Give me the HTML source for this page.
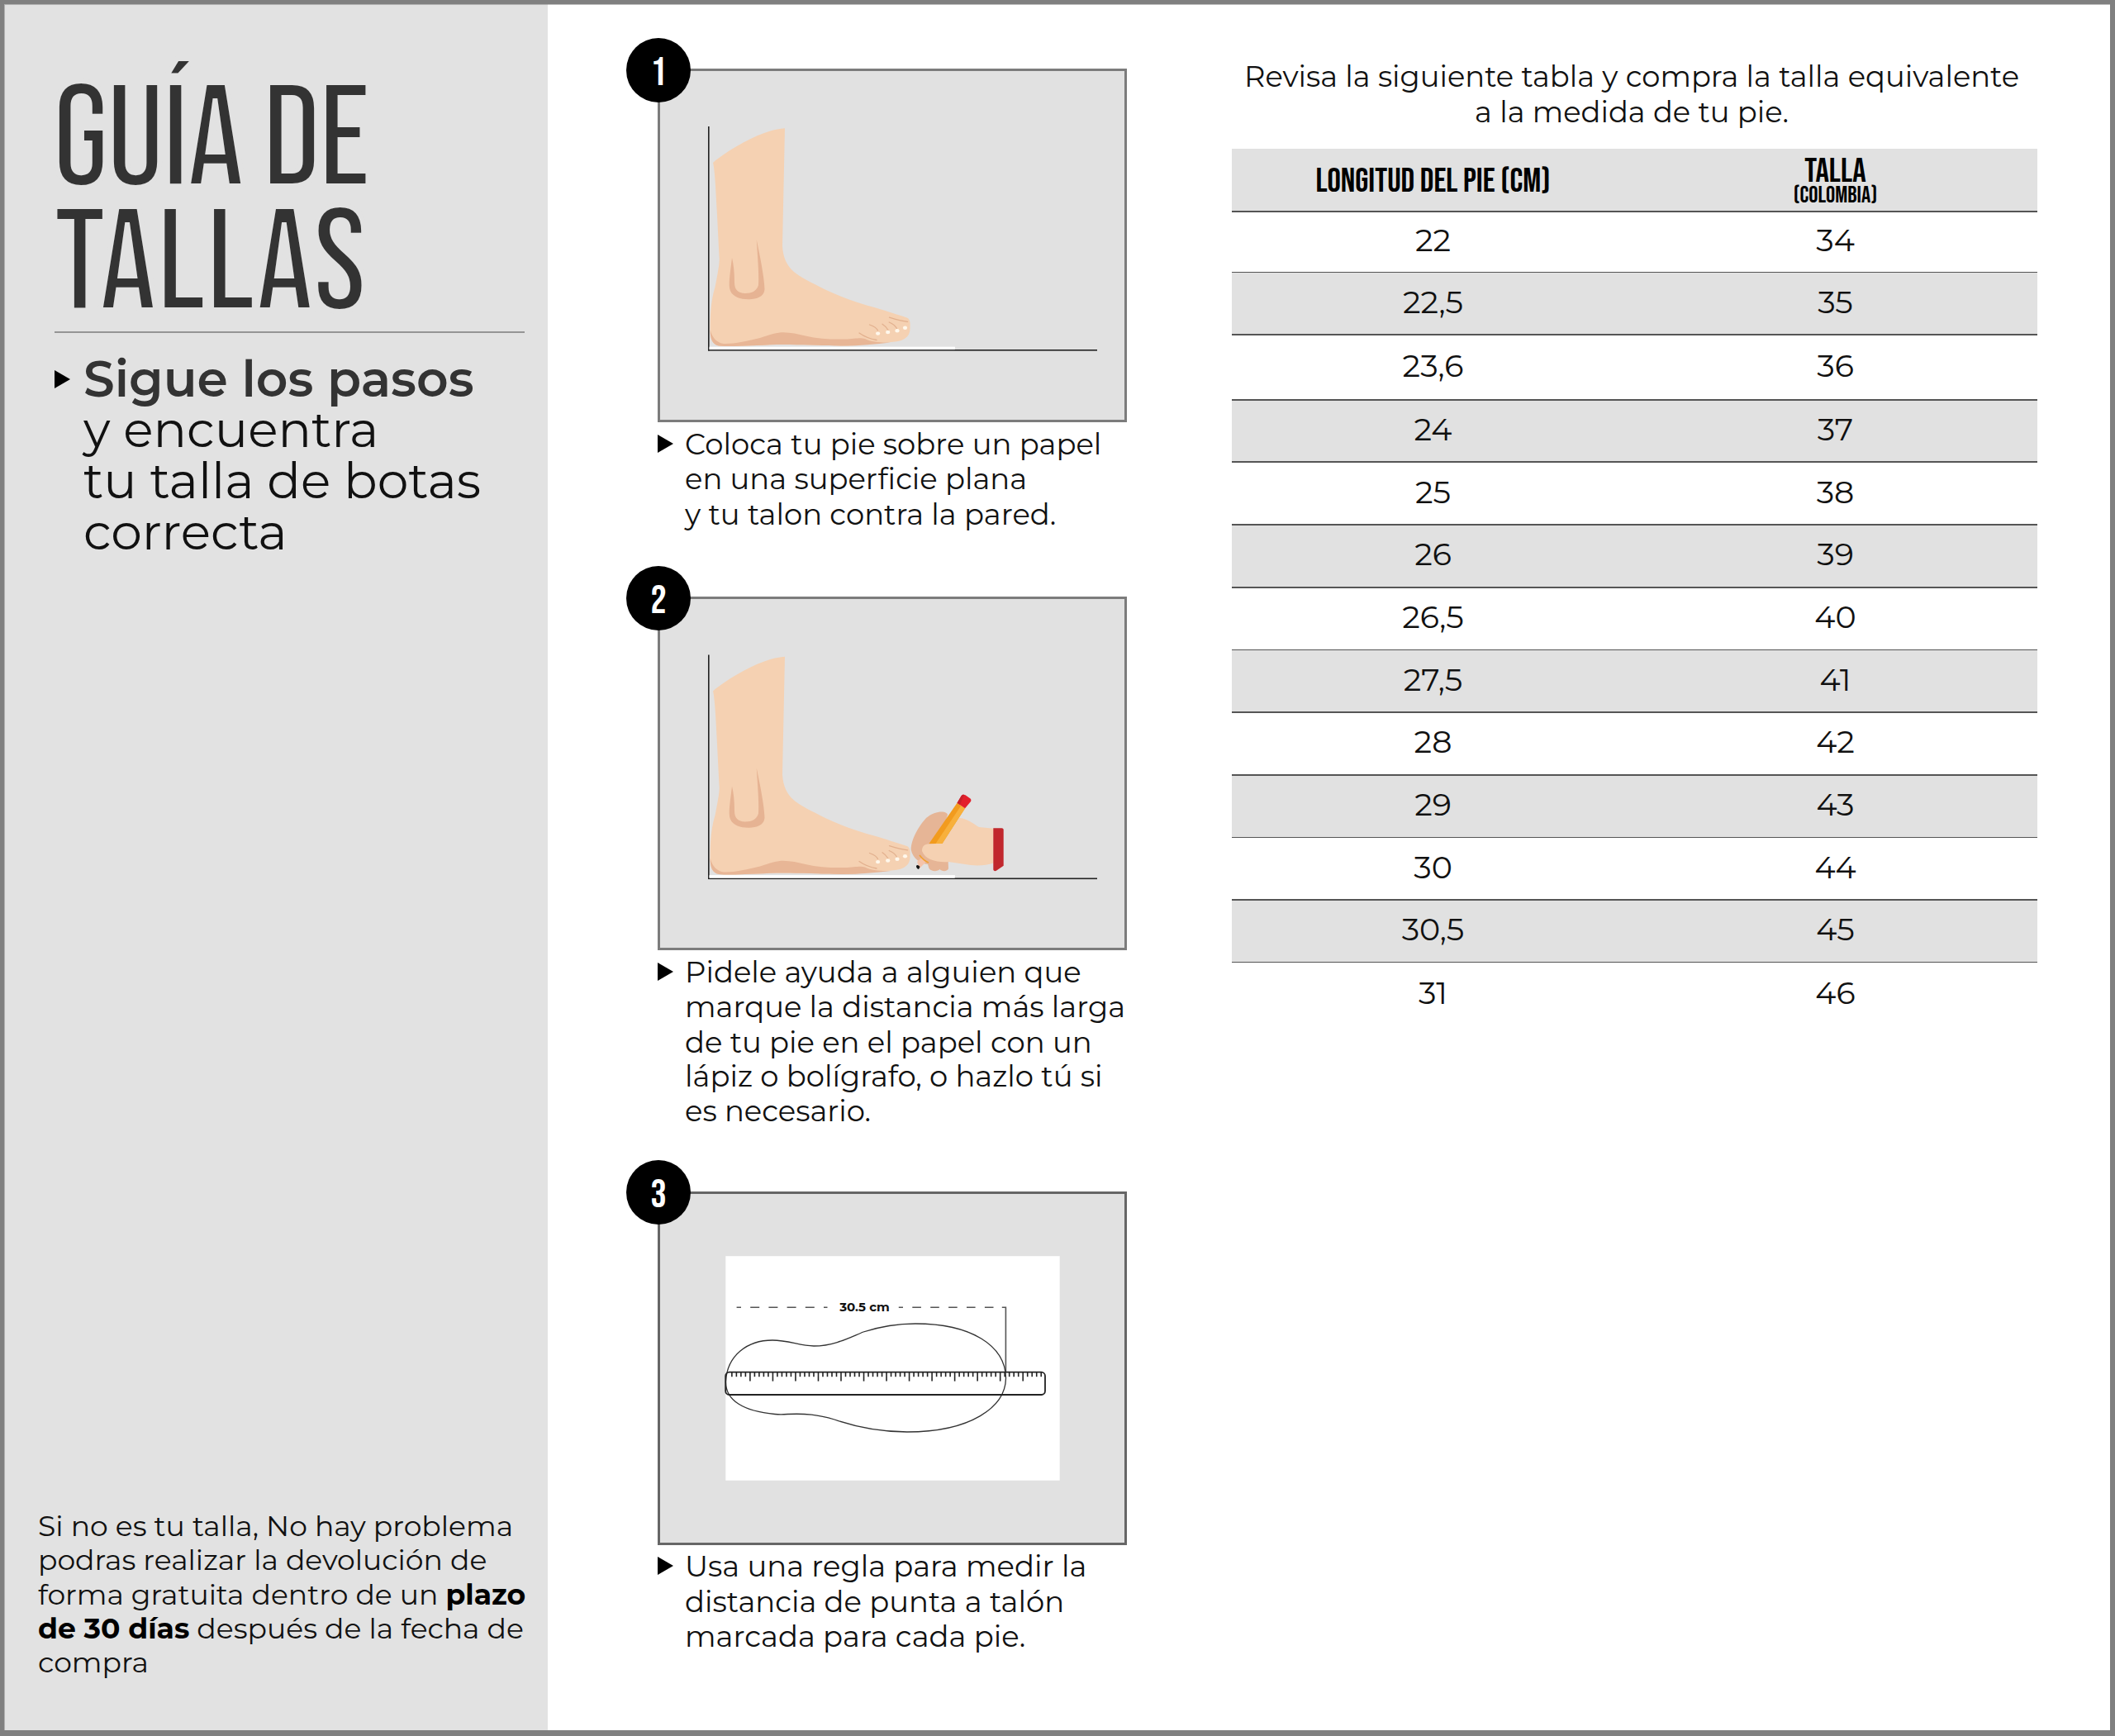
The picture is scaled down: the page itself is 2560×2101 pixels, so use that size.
<!DOCTYPE html>
<html lang="es"><head><meta charset="utf-8"><title>Guía de tallas</title>
<style>
*{margin:0;padding:0;box-sizing:border-box}
html,body{width:2560px;height:2101px;overflow:hidden;background:#fff}
body{position:relative;color:#111}
.abs{position:absolute}
#frame{position:absolute;left:0;top:0;width:2560px;height:2101px;border-style:solid;border-color:#808080;border-width:5px 6px 7px 5px;z-index:50;pointer-events:none}
#frame2{position:absolute;left:5px;top:5px;width:2549px;height:2089px;border-style:solid;border-color:rgba(128,128,128,.5);border-width:1px 0 0 1px;z-index:50;pointer-events:none}
#left{position:absolute;left:5px;top:5px;width:658px;height:2090px;background:#e2e2e2}
#sep{position:absolute;left:66px;top:401px;width:569px;height:2px;background:#959595}
.tri{position:absolute;width:0;height:0;border-style:solid;border-color:transparent transparent transparent #000}
.line{position:absolute;white-space:nowrap;line-height:1}
.title{position:absolute;line-height:1;color:#333;white-space:nowrap}
.sub{left:101px}
.sub b{color:#333}
.foot{left:46px;color:#111}
.foot b{color:#000}
.box{position:absolute;left:796px;width:568px;height:428px;border:3px solid #7c7c7c;background:#e1e1e1}
.num{position:absolute;left:758px;width:78px;height:78px;border-radius:50%;background:#000;color:#fff;text-align:center;z-index:5;overflow:hidden}
.num span{display:block}
.st{left:829px;color:#111}
.para{color:#111;text-align:center;left:1475px;width:1000px}
.g{background:#e1e1e1}
.c1,.c2{position:absolute;width:487px;text-align:center;line-height:1;color:#111}
.c1{left:1491px}.c2{left:1978px}
.hl2{left:1491px;width:975px;height:1.8px;background:#555}
.hd{color:#000;position:absolute;text-align:center;line-height:1;white-space:nowrap}
.hd span{display:inline-block}

body{font-family:"Liberation Sans",Arial,sans-serif}
.title{font-family:"Liberation Sans",Arial,sans-serif;font-weight:700;font-size:175px;transform-origin:0 0;-webkit-text-stroke:2px #e2e2e2}
.t1{left:68px;top:74.8px;transform:scaleX(0.522);letter-spacing:0px}
.t2{left:66.5px;top:224.7px;transform:scaleX(0.55);letter-spacing:0px}
.sub{font-size:58.7px;transform-origin:0 0;transform:translateY(2px) scaleX(1.15)}
.sub1{transform:translateY(2px) scaleX(1.052)}
.sub b{font-weight:700}
.foot{font-size:33.8px;transform-origin:0 0;transform:translateY(1px) scaleX(1.145)}
.foot b{font-weight:700}
.st{font-size:34.6px;transform-origin:0 0;transform:translateY(1px) scaleX(1.143)}
.para{font-size:34.5px;transform-origin:50% 0;transform:translateY(1px) scaleX(1.145)}
.c1,.c2{font-size:37.2px;letter-spacing:1.5px;transform:translateY(1px)}
.num{font-family:"Liberation Sans",Arial,sans-serif;font-weight:700;font-size:52.5px;line-height:77.5px}
.num span{transform:scaleX(0.7)}
.hd{font-family:"Liberation Sans",Arial,sans-serif;font-weight:700}
.h1{left:0;width:487px;top:18.2px;font-size:40px;letter-spacing:0px}
.h2{left:487px;width:487px;top:6.9px;font-size:40px;letter-spacing:0px}
.h3{left:487px;width:487px;top:42px;font-size:27.4px;letter-spacing:0px}
.h1 span{transform:scaleX(0.59)}
.h2 span{transform:scaleX(0.598)}
.h3 span{transform:scaleX(0.617)}
.dim{font-family:"Liberation Sans",Arial,sans-serif;font-size:14.7px}

.gf body{font-family:"Montserrat","Liberation Sans",sans-serif}
.gf .title{font-family:"Bebas Neue","Liberation Sans",sans-serif;font-weight:400;font-size:178px;-webkit-text-stroke:6px #e2e2e2;transform:none}
.gf .t1{left:63px;top:83px;letter-spacing:-4.3px}
.gf .t2{left:64.3px;top:233px;letter-spacing:-1.6px}
.gf .sub{font-size:60px;letter-spacing:0;transform:none}
.gf .sub b{font-weight:600}
.gf .foot{font-size:34.6px;letter-spacing:0;transform:none}
.gf .st{font-size:35.4px;letter-spacing:0;transform:none}
.gf .para{font-size:35.3px;letter-spacing:0;transform:none}
.gf .c1,.gf .c2{font-size:38px;letter-spacing:0;transform:none}
.gf .num{font-family:"Bebas Neue",sans-serif;font-weight:400;font-size:48px;line-height:85px}
.gf .num span{transform:none}
.gf .hd{font-family:"Bebas Neue",sans-serif;font-weight:400}
.gf .hd span,.gf .h1 span,.gf .h2 span,.gf .h3 span{transform:none}
.gf .h1{top:19.2px;font-size:41px;letter-spacing:0}
.gf .h2{top:7.4px;font-size:41px;letter-spacing:0}
.gf .h3{top:43px;font-size:28px;letter-spacing:0}
.gf .dim{font-family:"Montserrat",sans-serif;font-size:15px}
</style></head><body>
<div id="left"></div>
<div id="frame"></div>
<div id="frame2"></div>
<div class="title t1">GUÍA DE</div>
<div class="title t2">TALLAS</div>
<div id="sep"></div>

<div class="tri" style="left:65.8px;top:448.3px;border-width:11.35px 0 11.35px 19.4px"></div>
<div class="line sub sub1" style="top:429px"><b>Sigue los pasos</b></div>
<div class="line sub" style="top:489.6px">y encuentra</div>
<div class="line sub" style="top:552px">tu talla de botas</div>
<div class="line sub" style="top:613.5px">correcta</div>

<div class="line foot" style="top:1830.4px">Si no es tu talla, No hay problema</div>
<div class="line foot" style="top:1871.4px">podras realizar la devolución de</div>
<div class="line foot" style="top:1913.4px">forma gratuita dentro de un <b>plazo</b></div>
<div class="line foot" style="top:1954.4px"><b>de 30 días</b> después de la fecha de</div>
<div class="line foot" style="top:1995.4px">compra</div>

<div class="box" style="top:83px"></div>
<div class="box" style="top:722px"></div>
<div class="box" style="top:1442px;border-color:#666"></div>
<div class="num" style="top:46px"><span>1</span></div>
<div class="num" style="top:685px"><span>2</span></div>
<div class="num" style="top:1404px"><span>3</span></div>

<svg class="abs" style="left:0;top:0;z-index:3" width="2560" height="2101" viewBox="0 0 2560 2101">

<g>
 <path fill="#f5d1b2" d="M863,197 C875,186 905,168 925,161 C935,157 945,155.5 950,155.2 L947,298 C948,312 952,321 961,329 C968,335 982,342 1000,351 C1020,360.5 1040,367 1060,372.6 C1075,377 1088,381.5 1097,384.2 C1101,385 1102,390 1101.5,395 C1102,402 1100,408 1092,411.4 C1085,414 1070,415 1055,415 C1045,417 1035,418.5 1020,418.5 C990,418 960,416.5 940,417 C910,418 885,420 870,418.5 C862,417 859.5,410 859.5,399 C859.5,385 860,365 865.6,347 C869,330 871,318 870.7,313 C869,280 867,240 866,225 C865,210 864,200 863,197 Z"/>
 <path fill="#e8b696" d="M859.6,399 C862,409 868,415 876,416 C888,416.5 905,412.5 920,409 C932,405 941,402.3 948,402.3 C957,402.3 966,404.5 975,406.5 C990,410 1008,411 1022,410.5 C1035,410 1042,408 1047,410 C1055,414 1066,415 1078,414.5 C1060,416.5 1040,418.5 1020,418.5 C990,418 960,416.5 940,417 C910,418 885,420 870,418.5 C862,417 859.6,410 859.6,399 Z"/>
 <path fill="#e6b393" d="M886,312 C884,330 881,345 884,352 C888,361 900,363 910,362 C920,361 925,357 925.5,350 C925,335 920,310 915.7,290 C917,310 919,335 918,345 C916,352 910,355 902,355 C893,355 889,350 889,342 C889,330 888,320 886,312 Z"/>
 <g fill="none" stroke="#e2b08e" stroke-width="1.3" stroke-linecap="round">
  <path d="M1052.5,393 C1057,394.5 1061,396.5 1062.5,400"/>
  <path d="M1068,392.3 C1071.5,394.5 1073.5,397 1075,399.5"/>
  <path d="M1076.2,390 C1080,391.5 1083.5,394 1085.5,397.5"/>
  <path d="M1076.5,384.2 C1084,386.5 1091,388.5 1098.5,389.4"/>
  <path d="M1040,403 C1045,406.5 1052,410 1061,411.5"/>
 </g>
 <g fill="#fff8ec">
  <ellipse cx="1062.6" cy="403.6" rx="2.6" ry="2.2"/>
  <ellipse cx="1074.7" cy="402" rx="2.6" ry="2.2"/>
  <ellipse cx="1086" cy="400.3" rx="2.6" ry="2.2"/>
  <ellipse cx="1095.5" cy="396.8" rx="2.6" ry="2.2"/>
 </g>
 <rect x="858" y="419.8" width="298" height="3.6" fill="#fff"/>
 <rect x="857" y="153" width="1.6" height="271.5" fill="#222"/>
 <rect x="857" y="423" width="471" height="1.6" fill="#222"/>
 <rect x="858.6" y="419.8" width="297" height="3.3" fill="#fff"/>
</g>
<g transform="translate(0,639.5)">
 <path fill="#f5d1b2" d="M863,197 C875,186 905,168 925,161 C935,157 945,155.5 950,155.2 L947,298 C948,312 952,321 961,329 C968,335 982,342 1000,351 C1020,360.5 1040,367 1060,372.6 C1075,377 1088,381.5 1097,384.2 C1101,385 1102,390 1101.5,395 C1102,402 1100,408 1092,411.4 C1085,414 1070,415 1055,415 C1045,417 1035,418.5 1020,418.5 C990,418 960,416.5 940,417 C910,418 885,420 870,418.5 C862,417 859.5,410 859.5,399 C859.5,385 860,365 865.6,347 C869,330 871,318 870.7,313 C869,280 867,240 866,225 C865,210 864,200 863,197 Z"/>
 <path fill="#e8b696" d="M859.6,399 C862,409 868,415 876,416 C888,416.5 905,412.5 920,409 C932,405 941,402.3 948,402.3 C957,402.3 966,404.5 975,406.5 C990,410 1008,411 1022,410.5 C1035,410 1042,408 1047,410 C1055,414 1066,415 1078,414.5 C1060,416.5 1040,418.5 1020,418.5 C990,418 960,416.5 940,417 C910,418 885,420 870,418.5 C862,417 859.6,410 859.6,399 Z"/>
 <path fill="#e6b393" d="M886,312 C884,330 881,345 884,352 C888,361 900,363 910,362 C920,361 925,357 925.5,350 C925,335 920,310 915.7,290 C917,310 919,335 918,345 C916,352 910,355 902,355 C893,355 889,350 889,342 C889,330 888,320 886,312 Z"/>
 <g fill="none" stroke="#e2b08e" stroke-width="1.3" stroke-linecap="round">
  <path d="M1052.5,393 C1057,394.5 1061,396.5 1062.5,400"/>
  <path d="M1068,392.3 C1071.5,394.5 1073.5,397 1075,399.5"/>
  <path d="M1076.2,390 C1080,391.5 1083.5,394 1085.5,397.5"/>
  <path d="M1076.5,384.2 C1084,386.5 1091,388.5 1098.5,389.4"/>
  <path d="M1040,403 C1045,406.5 1052,410 1061,411.5"/>
 </g>
 <g fill="#fff8ec">
  <ellipse cx="1062.6" cy="403.6" rx="2.6" ry="2.2"/>
  <ellipse cx="1074.7" cy="402" rx="2.6" ry="2.2"/>
  <ellipse cx="1086" cy="400.3" rx="2.6" ry="2.2"/>
  <ellipse cx="1095.5" cy="396.8" rx="2.6" ry="2.2"/>
 </g>
 <rect x="858" y="419.8" width="298" height="3.6" fill="#fff"/>
 <rect x="857" y="153" width="1.6" height="271.5" fill="#222"/>
 <rect x="857" y="423" width="471" height="1.6" fill="#222"/>
 <rect x="858.6" y="419.8" width="297" height="3.3" fill="#fff"/>
</g>
<!-- hand with pencil (box 2) -->
<g>
 <path fill="#e6b596" d="M1102.6,1028 C1103,1015 1112,1000 1121,990 C1128,984 1136,982 1141,982.5 C1145,983 1147,985 1147,986 L1135,1025 L1147.6,1042 L1148,1051 C1147,1055 1140,1055 1137.5,1052 C1135,1055 1127,1055 1124.5,1051 L1123,1046 C1115,1045 1105,1040 1102.6,1028 Z"/>
 <path fill="#f5d1b2" d="M1116,1030 C1116,1023 1120,1021 1126,1021.5 L1141,1020.5 L1161,990 C1170,990 1178,997 1185,1001 L1202.5,1002.7 L1202.5,1044.5 C1195,1047 1185,1048 1175,1047 L1148,1043 C1135,1044 1120,1041 1116,1030 Z"/>
 <polygon fill="#f29b1e" points="1158.5,971.8 1168.1,978.2 1140.5,1021 1124.5,1021"/>
 <polygon fill="#f8b03c" points="1163.3,975 1168.1,978.2 1140.5,1021 1132.5,1021"/>
 <path fill="#e3202b" d="M1158.5,971.8 L1163.7,963 C1165,961.5 1167,961.5 1168.5,962.3 L1174.5,966.5 C1175.6,967.5 1175.6,969 1175,970 L1168.1,978.2 Z"/>
 <path fill="#c8202a" d="M1158.5,971.8 L1163.7,963 C1165,961.5 1166,961.5 1167,962 L1162,974 Z"/>
 <polygon fill="#f5c3aa" points="1110,1043 1115.5,1038 1121,1043 1113,1051"/>
 <path fill="#111" d="M1109,1048 C1110,1046 1112,1047 1113.5,1049 L1112,1052 C1110,1051.5 1109,1050 1109,1048 Z"/>
 <path fill="none" stroke="#f0a030" stroke-width="1.6" d="M1113,1035 C1117,1040 1121,1043 1124,1044"/>
 <path fill="#c1272d" d="M1202.3,1002.3 L1212.5,1002.3 C1214,1002.3 1214.7,1003.3 1214.7,1004.5 L1214.7,1047.7 L1205.5,1054.1 C1203.5,1054.5 1202.3,1053.5 1202.3,1052 Z"/>
</g>
<!-- box 3 drawing -->
<rect x="878.3" y="1520.2" width="404.4" height="271.5" fill="#fff"/>
<path fill="none" stroke="#555" stroke-width="1.6" stroke-dasharray="11 11.2" stroke-dashoffset="5.6" d="M891.6,1582.2 H1001.5"/>
<path fill="none" stroke="#555" stroke-width="1.6" stroke-dasharray="10.6 11.3" stroke-dashoffset="5.4" d="M1087.8,1582.2 H1210"/>
<path fill="none" stroke="#555" stroke-width="1.6" d="M1212.8,1582.2 H1217.4 V1660"/>
<text x="1046.5" y="1586.9" class="dim" font-weight="700" font-size="15" text-anchor="middle" fill="#111">30.5 cm</text>
<path fill="none" stroke="#333" stroke-width="1.3" d="M878.5,1672 C880,1640 905,1622 935,1622 C955,1622 968,1629 985,1629 C1010,1629 1030,1618 1045,1612 C1070,1604 1090,1602 1108,1602 C1175,1602 1217,1628 1217.5,1668 C1217,1703 1175,1733 1098,1733 C1060,1733 1030,1725 1010,1718 C990,1712 975,1710.5 953,1711.5 C947,1712 943,1712 938,1711.5 C900,1708 878,1695 878.5,1672 Z"/>
<rect x="878.2" y="1660.7" width="386.8" height="27.3" rx="4.5" fill="none" stroke="#222" stroke-width="1.8"/>
<g stroke="#222" stroke-width="1.6"><line x1="885.88" y1="1661" x2="885.88" y2="1666.2"/><line x1="891.38" y1="1661" x2="891.38" y2="1666.2"/><line x1="896.89" y1="1661" x2="896.89" y2="1666.2"/><line x1="902.39" y1="1661" x2="902.39" y2="1666.2"/><line x1="907.90" y1="1661" x2="907.90" y2="1671.6"/><line x1="913.40" y1="1661" x2="913.40" y2="1666.2"/><line x1="918.91" y1="1661" x2="918.91" y2="1666.2"/><line x1="924.41" y1="1661" x2="924.41" y2="1666.2"/><line x1="929.92" y1="1661" x2="929.92" y2="1666.2"/><line x1="935.42" y1="1661" x2="935.42" y2="1671.6"/><line x1="940.93" y1="1661" x2="940.93" y2="1666.2"/><line x1="946.43" y1="1661" x2="946.43" y2="1666.2"/><line x1="951.94" y1="1661" x2="951.94" y2="1666.2"/><line x1="957.44" y1="1661" x2="957.44" y2="1666.2"/><line x1="962.95" y1="1661" x2="962.95" y2="1671.6"/><line x1="968.45" y1="1661" x2="968.45" y2="1666.2"/><line x1="973.96" y1="1661" x2="973.96" y2="1666.2"/><line x1="979.46" y1="1661" x2="979.46" y2="1666.2"/><line x1="984.97" y1="1661" x2="984.97" y2="1666.2"/><line x1="990.48" y1="1661" x2="990.48" y2="1671.6"/><line x1="995.98" y1="1661" x2="995.98" y2="1666.2"/><line x1="1001.49" y1="1661" x2="1001.49" y2="1666.2"/><line x1="1006.99" y1="1661" x2="1006.99" y2="1666.2"/><line x1="1012.50" y1="1661" x2="1012.50" y2="1666.2"/><line x1="1018.00" y1="1661" x2="1018.00" y2="1671.6"/><line x1="1023.50" y1="1661" x2="1023.50" y2="1666.2"/><line x1="1029.01" y1="1661" x2="1029.01" y2="1666.2"/><line x1="1034.51" y1="1661" x2="1034.51" y2="1666.2"/><line x1="1040.02" y1="1661" x2="1040.02" y2="1666.2"/><line x1="1045.53" y1="1661" x2="1045.53" y2="1671.6"/><line x1="1051.03" y1="1661" x2="1051.03" y2="1666.2"/><line x1="1056.53" y1="1661" x2="1056.53" y2="1666.2"/><line x1="1062.04" y1="1661" x2="1062.04" y2="1666.2"/><line x1="1067.55" y1="1661" x2="1067.55" y2="1666.2"/><line x1="1073.05" y1="1661" x2="1073.05" y2="1671.6"/><line x1="1078.56" y1="1661" x2="1078.56" y2="1666.2"/><line x1="1084.06" y1="1661" x2="1084.06" y2="1666.2"/><line x1="1089.57" y1="1661" x2="1089.57" y2="1666.2"/><line x1="1095.07" y1="1661" x2="1095.07" y2="1666.2"/><line x1="1100.58" y1="1661" x2="1100.58" y2="1671.6"/><line x1="1106.08" y1="1661" x2="1106.08" y2="1666.2"/><line x1="1111.59" y1="1661" x2="1111.59" y2="1666.2"/><line x1="1117.09" y1="1661" x2="1117.09" y2="1666.2"/><line x1="1122.60" y1="1661" x2="1122.60" y2="1666.2"/><line x1="1128.10" y1="1661" x2="1128.10" y2="1671.6"/><line x1="1133.61" y1="1661" x2="1133.61" y2="1666.2"/><line x1="1139.11" y1="1661" x2="1139.11" y2="1666.2"/><line x1="1144.62" y1="1661" x2="1144.62" y2="1666.2"/><line x1="1150.12" y1="1661" x2="1150.12" y2="1666.2"/><line x1="1155.62" y1="1661" x2="1155.62" y2="1671.6"/><line x1="1161.13" y1="1661" x2="1161.13" y2="1666.2"/><line x1="1166.63" y1="1661" x2="1166.63" y2="1666.2"/><line x1="1172.14" y1="1661" x2="1172.14" y2="1666.2"/><line x1="1177.64" y1="1661" x2="1177.64" y2="1666.2"/><line x1="1183.15" y1="1661" x2="1183.15" y2="1671.6"/><line x1="1188.65" y1="1661" x2="1188.65" y2="1666.2"/><line x1="1194.16" y1="1661" x2="1194.16" y2="1666.2"/><line x1="1199.66" y1="1661" x2="1199.66" y2="1666.2"/><line x1="1205.17" y1="1661" x2="1205.17" y2="1666.2"/><line x1="1210.67" y1="1661" x2="1210.67" y2="1671.6"/><line x1="1216.18" y1="1661" x2="1216.18" y2="1666.2"/><line x1="1221.68" y1="1661" x2="1221.68" y2="1666.2"/><line x1="1227.19" y1="1661" x2="1227.19" y2="1666.2"/><line x1="1232.69" y1="1661" x2="1232.69" y2="1666.2"/><line x1="1238.20" y1="1661" x2="1238.20" y2="1671.6"/><line x1="1243.70" y1="1661" x2="1243.70" y2="1666.2"/><line x1="1249.21" y1="1661" x2="1249.21" y2="1666.2"/><line x1="1254.71" y1="1661" x2="1254.71" y2="1666.2"/><line x1="1260.22" y1="1661" x2="1260.22" y2="1666.2"/></g>
</svg>

<div class="tri" style="left:795.9px;top:525.5px;border-width:11.2px 0 11.2px 19.7px"></div>
<div class="line st" style="top:519.9px">Coloca tu pie sobre un papel</div>
<div class="line st" style="top:561.9px">en una superficie plana</div>
<div class="line st" style="top:604.9px">y tu talon contra la pared.</div>

<div class="tri" style="left:795.9px;top:1165px;border-width:11.2px 0 11.2px 19.7px"></div>
<div class="line st" style="top:1158.9px">Pidele ayuda a alguien que</div>
<div class="line st" style="top:1200.9px">marque la distancia más larga</div>
<div class="line st" style="top:1243.9px">de tu pie en el papel con un</div>
<div class="line st" style="top:1284.9px">lápiz o bolígrafo, o hazlo tú si</div>
<div class="line st" style="top:1326.9px">es necesario.</div>

<div class="tri" style="left:795.9px;top:1884.2px;border-width:11.2px 0 11.2px 19.7px"></div>
<div class="line st" style="top:1877.9px">Usa una regla para medir la</div>
<div class="line st" style="top:1920.9px">distancia de punta a talón</div>
<div class="line st" style="top:1962.9px">marcada para cada pie.</div>

<div class="line para" style="top:75.3px">Revisa la siguiente tabla y compra la talla equivalente</div>
<div class="line para" style="top:118.3px">a la medida de tu pie.</div>

<div class="abs" style="left:1491px;top:180px;width:975px;height:76px">
 <div class="abs g" style="left:0;top:0;width:975px;height:76px"></div>
 <div class="hd h1"><span>LONGITUD DEL PIE (CM)</span></div>
 <div class="hd h2"><span>TALLA</span></div>
 <div class="hd h3"><span>(COLOMBIA)</span></div>
</div>
<div id="rows">
<div class="abs g" style="left:1491px;width:975px;top:329.4px;height:75.9px"></div>
<div class="abs g" style="left:1491px;width:975px;top:484.2px;height:75.1px"></div>
<div class="abs g" style="left:1491px;width:975px;top:635.3px;height:75.4px"></div>
<div class="abs g" style="left:1491px;width:975px;top:786.4px;height:75.6px"></div>
<div class="abs g" style="left:1491px;width:975px;top:937.8px;height:75.6px"></div>
<div class="abs g" style="left:1491px;width:975px;top:1089.2px;height:75.3px"></div>
<div class="abs hl2" style="top:254.8px"></div>
<div class="abs hl2" style="top:328.5px"></div>
<div class="abs hl2" style="top:404.4px"></div>
<div class="abs hl2" style="top:483.3px"></div>
<div class="abs hl2" style="top:558.4px"></div>
<div class="abs hl2" style="top:634.4px"></div>
<div class="abs hl2" style="top:709.8px"></div>
<div class="abs hl2" style="top:785.5px"></div>
<div class="abs hl2" style="top:861.1px"></div>
<div class="abs hl2" style="top:936.9px"></div>
<div class="abs hl2" style="top:1012.5px"></div>
<div class="abs hl2" style="top:1088.3px"></div>
<div class="abs hl2" style="top:1163.6px"></div>
<div class="c1" style="top:271.9px">22</div>
<div class="c2" style="top:271.9px">34</div>
<div class="c1" style="top:346.7px">22,5</div>
<div class="c2" style="top:346.7px">35</div>
<div class="c1" style="top:424.1px">23,6</div>
<div class="c2" style="top:424.1px">36</div>
<div class="c1" style="top:501.1px">24</div>
<div class="c2" style="top:501.1px">37</div>
<div class="c1" style="top:576.6px">25</div>
<div class="c2" style="top:576.6px">38</div>
<div class="c1" style="top:652.3px">26</div>
<div class="c2" style="top:652.3px">39</div>
<div class="c1" style="top:727.9px">26,5</div>
<div class="c2" style="top:727.9px">40</div>
<div class="c1" style="top:803.5px">27,5</div>
<div class="c2" style="top:803.5px">41</div>
<div class="c1" style="top:879.2px">28</div>
<div class="c2" style="top:879.2px">42</div>
<div class="c1" style="top:954.9px">29</div>
<div class="c2" style="top:954.9px">43</div>
<div class="c1" style="top:1030.6px">30</div>
<div class="c2" style="top:1030.6px">44</div>
<div class="c1" style="top:1106.2px">30,5</div>
<div class="c2" style="top:1106.2px">45</div>
<div class="c1" style="top:1182.5px">31</div>
<div class="c2" style="top:1182.5px">46</div>
</div>

<script>
(function(){
 function w(f){var s=document.createElement('span');s.style.cssText='position:absolute;left:-9999px;top:0;font-size:80px;white-space:nowrap;font-family:'+f;s.textContent='mmmmwwwwiiiilll 0123 ABCDE';document.body.appendChild(s);var r=s.getBoundingClientRect().width;document.body.removeChild(s);return r;}
 try{
  var m=w('monospace'), sf=w('serif');
  function has(n){return w('"'+n+'",monospace')!==m && w('"'+n+'",serif')!==sf;}
  if(has('Bebas Neue') && has('Montserrat')) document.documentElement.className+=' gf';
 }catch(e){}
})();
</script>
</body></html>
